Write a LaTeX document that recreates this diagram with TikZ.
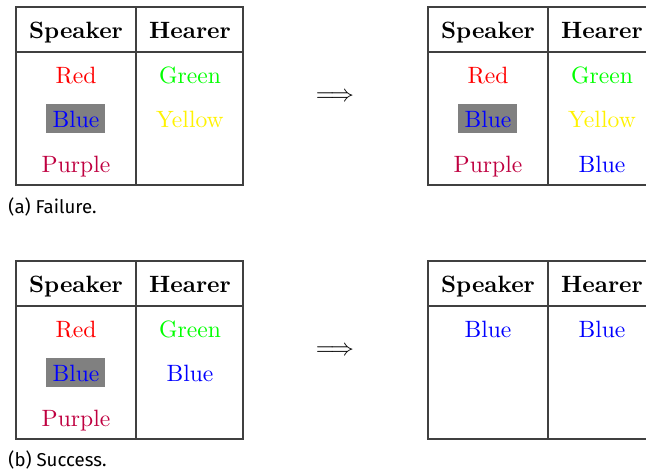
\documentclass[tikz,border=0pt]{standalone}
\usepackage{fontspec}
\newfontfamily\capfont{Fira Sans}
\definecolor{mypurple}{rgb}{0.75,0,0.25}
\definecolor{linegray}{gray}{0.25}
\begin{document}
\begin{tikzpicture}[x=0.4237pt,y=-0.4237pt,
  tline/.style={draw=linegray,line width=0.5pt},
  head/.style={anchor=base,font=\bfseries,inner sep=0pt},
  cell/.style={anchor=base,inner sep=0pt},
  hl/.style={fill=gray,text=blue,minimum width=25pt,minimum height=12.3pt,inner sep=0pt,outer sep=0pt},
  caption/.style={anchor=base west,inner sep=0pt,font=\capfont\fontsize{7.9}{9}\selectfont},
  implies/.style={inner sep=0pt}]
\useasboundingbox (0,0) rectangle (646,474);
% ---------- (a) left table ----------
\draw[tline] (16,7) rectangle (243,185);
\draw[tline] (16,52) -- (243,52);
\draw[tline] (136,7) -- (136,185);
\node[head] (a1s) at (76,38) {Speaker};
\node[head] (a1h) at (190,38) {Hearer};
\node[cell,text=red] (a1r) at (76,83) {Red};
\node[hl] (a1bbox) at (75.5,118.5) {};
\node[cell,text=blue] (a1b) at (76,127.5) {Blue};
\node[cell,text=mypurple] (a1p) at (76,172) {Purple};
\node[cell,text=green] (a1g) at (190,83) {Green};
\node[cell,text=yellow] (a1y) at (190,127.5) {Yellow};
\node[caption] (capa) at (8,213) {(a) Failure.};
\node[implies] (arra) at (335,97) {$\Longrightarrow$};
% ---------- (a) right table ----------
\draw[tline] (646,7) -- (428,7) -- (428,185) -- (646,185);
\draw[tline] (428,52) -- (646,52);
\draw[tline] (548,7) -- (548,185);
\node[head] (a2s) at (488,38) {Speaker};
\node[head] (a2h) at (602,38) {Hearer};
\node[cell,text=red] (a2r) at (488,83) {Red};
\node[hl] (a2bbox) at (487.5,118.5) {};
\node[cell,text=blue] (a2b) at (488,127.5) {Blue};
\node[cell,text=mypurple] (a2p) at (488,172) {Purple};
\node[cell,text=green] (a2g) at (602,83) {Green};
\node[cell,text=yellow] (a2y) at (602,127.5) {Yellow};
\node[cell,text=blue] (a2bl) at (602,172) {Blue};
% ---------- (b) left table ----------
\draw[tline] (16,261) rectangle (243,439);
\draw[tline] (16,306) -- (243,306);
\draw[tline] (136,261) -- (136,439);
\node[head] (b1s) at (76,292) {Speaker};
\node[head] (b1h) at (190,292) {Hearer};
\node[cell,text=red] (b1r) at (76,337) {Red};
\node[hl] (b1bbox) at (75.5,372.5) {};
\node[cell,text=blue] (b1b) at (76,381.5) {Blue};
\node[cell,text=mypurple] (b1p) at (76,426) {Purple};
\node[cell,text=green] (b1g) at (190,337) {Green};
\node[cell,text=blue] (b1bl) at (190,381.5) {Blue};
\node[caption] (capb) at (8,466) {(b) Success.};
\node[implies] (arrb) at (335,351) {$\Longrightarrow$};
% ---------- (b) right table ----------
\draw[tline] (646,261) -- (428,261) -- (428,439) -- (646,439);
\draw[tline] (428,306) -- (646,306);
\draw[tline] (548,261) -- (548,439);
\node[head] (b2s) at (488,292) {Speaker};
\node[head] (b2h) at (602,292) {Hearer};
\node[cell,text=blue] (b2b) at (488,337) {Blue};
\node[cell,text=blue] (b2bl) at (602,337) {Blue};
\end{tikzpicture}
\end{document}
